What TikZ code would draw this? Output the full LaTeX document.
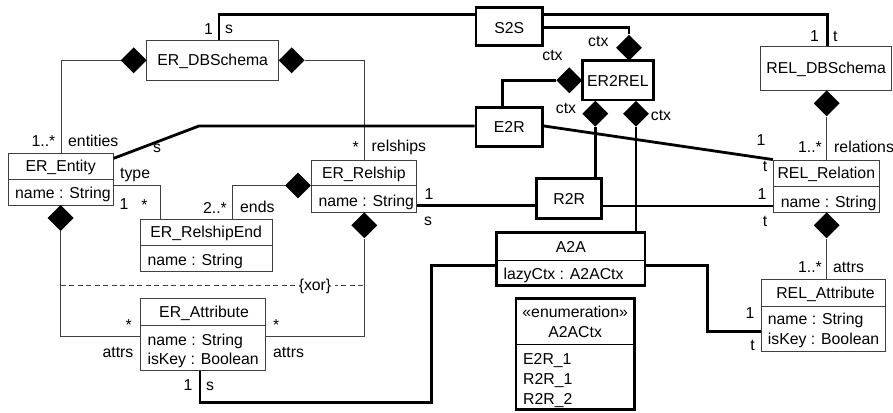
\documentclass[tikz,border=0pt]{standalone}
\usepackage{fontspec}
\setmainfont{Liberation Sans}
\usetikzlibrary{shapes.geometric}
\begin{document}
\begin{tikzpicture}[x=1pt,y=-1pt,
  txt/.style={font=\fontsize{15.8}{19}\selectfont, inner sep=0pt, text height=11pt, text depth=0pt},
  thinbox/.style={draw=black!75, line width=0.9pt, fill=white, inner sep=0pt},
  thickbox/.style={draw=black, line width=2.8pt, fill=white, inner sep=0pt},
  thinline/.style={draw=black!75, line width=0.9pt},
  thickline/.style={draw=black, line width=2.8pt},
  divline/.style={draw=black, line width=1pt},
  dia/.style={diamond, fill=black, inner sep=0pt, minimum width=26pt, minimum height=26pt},
  xorline/.style={draw=black!75, line width=0.9pt, dash pattern=on 5pt off 3.5pt},
]
\useasboundingbox (0,0) rectangle (893,412);

% ---------- boxes ----------
\node[thickbox, minimum width=66.7pt, minimum height=38.4pt] (S2S) at (509.3,26.5) {};
\node[thickbox, minimum width=71pt, minimum height=39.3pt] (ER2REL) at (617.8,80.3) {};
\node[thickbox, minimum width=66.7pt, minimum height=39.4pt] (E2R) at (509.3,127) {};
\node[thickbox, minimum width=65pt, minimum height=40pt] (R2R) at (569.2,198.3) {};
\node[thickbox, minimum width=148.3pt, minimum height=53.4pt] (A2A) at (570.85,259) {};
\node[thickbox, minimum width=118.3pt, minimum height=111pt] (ENUM) at (575.15,354) {};
\node[thinbox, minimum width=132pt, minimum height=39.3pt] (ERDB) at (212.7,60.35) {};
\node[thinbox, minimum width=131pt, minimum height=43.3pt] (RELDB) at (826.2,68.3) {};
\node[thinbox, minimum width=105.3pt, minimum height=51.7pt] (ERE) at (60.65,179.15) {};
\node[thinbox, minimum width=105.7pt, minimum height=52.3pt] (ERR) at (363.85,186.15) {};
\node[thinbox, minimum width=132.3pt, minimum height=52.7pt] (ERRE) at (206.15,245.35) {};
\node[thinbox, minimum width=125.7pt, minimum height=72.4pt] (ERA) at (202.85,334.5) {};
\node[thinbox, minimum width=106pt, minimum height=52.3pt] (RELR) at (826.3,186.15) {};
\node[thinbox, minimum width=124.7pt, minimum height=72.7pt] (RELA) at (823.35,315.35) {};

% dividers
\draw[thinline] (ERE.west |- 0,179.3) -- (ERE.east |- 0,179.3);
\draw[thinline] (ERR.west |- 0,185) -- (ERR.east |- 0,185);
\draw[thinline] (ERRE.west |- 0,245) -- (ERRE.east |- 0,245);
\draw[thinline] (ERA.west |- 0,325.7) -- (ERA.east |- 0,325.7);
\draw[thinline] (RELR.west |- 0,186.7) -- (RELR.east |- 0,186.7);
\draw[thinline] (RELA.west |- 0,306.7) -- (RELA.east |- 0,306.7);
\draw[divline] (A2A.west |- 0,260) -- (A2A.east |- 0,260);
\draw[divline] (ENUM.west |- 0,344.3) -- (ENUM.east |- 0,344.3);

% ---------- box texts ----------
\node[txt] (tS2S) at (509.3,28) {S2S};
\node[txt] (tER2REL) at (617.8,81) {ER2REL};
\node[txt] (tE2R) at (509.3,126.5) {E2R};
\node[txt] (tR2R) at (569.2,199) {R2R};
\node[txt] (tA2A) at (570.85,246.5) {A2A};
\node[txt, anchor=west] (aA2A) at (503.3,273.5) {lazyCtx : A2ACtx};
\node[txt] (stEnum) at (575.15,312) {«enumeration»};
\node[txt] (tEnum) at (575.15,332) {A2ACtx};
\node[txt, anchor=west] (e1) at (523,359.2) {E2R\_1};
\node[txt, anchor=west] (e2) at (523,379.2) {R2R\_1};
\node[txt, anchor=west] (e3) at (523,398.8) {R2R\_2};
\node[txt] (tERDB) at (212.7,60.3) {ER\_DBSchema};
\node[txt] (tRELDB) at (826.2,68.3) {REL\_DBSchema};
\node[txt] (tERE) at (60.65,166.3) {ER\_Entity};
\node[txt, anchor=west] (aERE) at (15,193) {name : String};
\node[txt] (tERR) at (363.85,172.5) {ER\_Relship};
\node[txt, anchor=west] (aERR) at (318.3,200.5) {name : String};
\node[txt] (tERRE) at (206.15,232) {ER\_RelshipEnd};
\node[txt, anchor=west] (aERRE) at (147.3,259.5) {name : String};
\node[txt] (tERA) at (204,312) {ER\_Attribute};
\node[txt, anchor=west] (aERA1) at (147.3,340) {name : String};
\node[txt, anchor=west] (aERA2) at (147.3,359.3) {isKey : Boolean};
\node[txt] (tRELR) at (826.3,173.3) {REL\_Relation};
\node[txt, anchor=west] (aRELR) at (780.7,201.5) {name : String};
\node[txt] (tRELA) at (825.5,292.8) {REL\_Attribute};
\node[txt, anchor=west] (aRELA1) at (767.7,319) {name : String};
\node[txt, anchor=west] (aRELA2) at (767.7,339) {isKey : Boolean};

% ---------- diamonds ----------
\node[dia] (dS2S) at (629,47.7) {};
\node[dia] (dE2RL) at (569.3,80.3) {};
\node[dia] (dB1) at (595.3,113.7) {};
\node[dia] (dB2) at (636,113.7) {};
\node[dia] (dERDBL) at (133.7,60.35) {};
\node[dia] (dERDBR) at (291.7,60.35) {};
\node[dia] (dEREB) at (60.65,218) {};
\node[dia] (dERRL) at (298,185.5) {};
\node[dia] (dERRB) at (364.3,225.3) {};
\node[dia] (dRELDB) at (826.7,103.3) {};
\node[dia] (dRELRB) at (826.7,225.3) {};

% ---------- labels ----------
\node[txt, anchor=east] (l1) at (213,29.5) {1};
\node[txt, anchor=west] (l2) at (225,28.5) {s};
\node[txt, anchor=east] (l3) at (819,36) {1};
\node[txt, anchor=west] (l4) at (833,36) {t};
\node[txt] (l5) at (598.3,41.5) {ctx};
\node[txt] (l6) at (552.5,55) {ctx};
\node[txt] (l7) at (566,107.5) {ctx};
\node[txt] (l8) at (661,114.5) {ctx};
\node[txt, anchor=east] (l9) at (55.5,141) {1..*};
\node[txt, anchor=west] (l10) at (68,141) {entities};
\node[txt, anchor=east] (l11) at (359,147) {*};
\node[txt, anchor=west] (l12) at (371.5,146) {relships};
\node[txt] (l13) at (157,147) {s};
\node[txt, anchor=west] (l14) at (120,172.5) {type};
\node[txt] (l15) at (124,203.5) {1};
\node[txt] (l16) at (144.5,205) {*};
\node[txt, anchor=east] (l17) at (227,207.5) {2..*};
\node[txt, anchor=west] (l18) at (240,206.5) {ends};
\node[txt] (l19) at (429,194) {1};
\node[txt] (l20) at (428,219.5) {s};
\node[txt] (l21) at (761,140) {1};
\node[txt] (l22) at (765,166) {t};
\node[txt] (l23) at (762,194) {1};
\node[txt] (l24) at (765,221) {t};
\node[txt, anchor=east] (l25) at (822,147) {1..*};
\node[txt, anchor=west] (l26) at (834,146.5) {relations};
\node[txt, anchor=east] (l27) at (822,267) {1..*};
\node[txt, anchor=west] (l28) at (833,266.5) {attrs};
\node[txt] (l29) at (750,313.3) {1};
\node[txt] (l30) at (752.5,345) {t};
\node[txt, anchor=east] (l31) at (132,325) {*};
\node[txt, anchor=east] (l32) at (133.5,352) {attrs};
\node[txt, anchor=west] (l33) at (273,325) {*};
\node[txt, anchor=west] (l34) at (273,352) {attrs};
\node[txt] (l35) at (188,385) {1};
\node[txt] (l36) at (210,385) {s};

% ---------- thin connectors ----------
\draw[thinline] (dERDBL.west) -| (ERE.north -| 61,0);
\draw[thinline] (dERDBR.east) -| (ERR.north -| 364.3,0);
\draw[thinline] (ERE.east |- 0,185.7) -| (ERRE.north -| 160,0);
\draw[thinline] (dERRL.west) -| (ERRE.north -| 232.3,0);
\draw[thinline] (dEREB.south) |- (ERA.west |- 0,336.7);
\draw[thinline] (dERRB.south) |- (ERA.east |- 0,336.7);
\draw[thinline] (dRELDB.south) -- (RELR.north -| dRELDB.south);
\draw[thinline] (dRELRB.south) -- (RELA.north -| dRELRB.south);
\coordinate (xorL) at (dEREB.south |- 0,285);
\coordinate (xorR) at (dERRB.south |- 0,285);
\draw[xorline] (xorL) -- (xorR);
\node[txt, fill=white, inner xsep=4pt] (xor) at (315,284.5) {\{xor\}};

% ---------- thick connectors ----------
\draw[thickline] (S2S.west |- 0,14.3) -| (ERDB.north -| 219,0);
\draw[thickline] (S2S.east |- 0,14.3) -| (RELDB.north -| 827.7,0);
\draw[thickline] (S2S.east |- 0,27.3) -| (dS2S.north);
\draw[thickline] (dE2RL.west) -| (E2R.north -| 502.3,0);
\draw[thickline] (dB1.south) -- (R2R.north -| dB1.south);
\draw[thickline] (dB2.south) -- (A2A.north -| dB2.south);
\coordinate (bend) at (199,126);
\draw[thickline] (ERE.east |- 0,158.3) -- (bend) -- (E2R.west |- 0,126);
\draw[thickline] (E2R.east |- 0,126) -- (RELR.north west);
\draw[thickline] (ERR.east |- 0,205.5) -- (R2R.west |- 0,205.5);
\draw[thickline] (R2R.east |- 0,206) -- (RELR.west |- 0,206);
\draw[thickline] (ERA.south -| 200,0) |- (431.7,402.3) |- (A2A.west |- 0,265.7);
\draw[thickline] (A2A.east |- 0,265.7) -| (707.7,331.7) -- (RELA.west |- 0,331.7);
\end{tikzpicture}
\end{document}
